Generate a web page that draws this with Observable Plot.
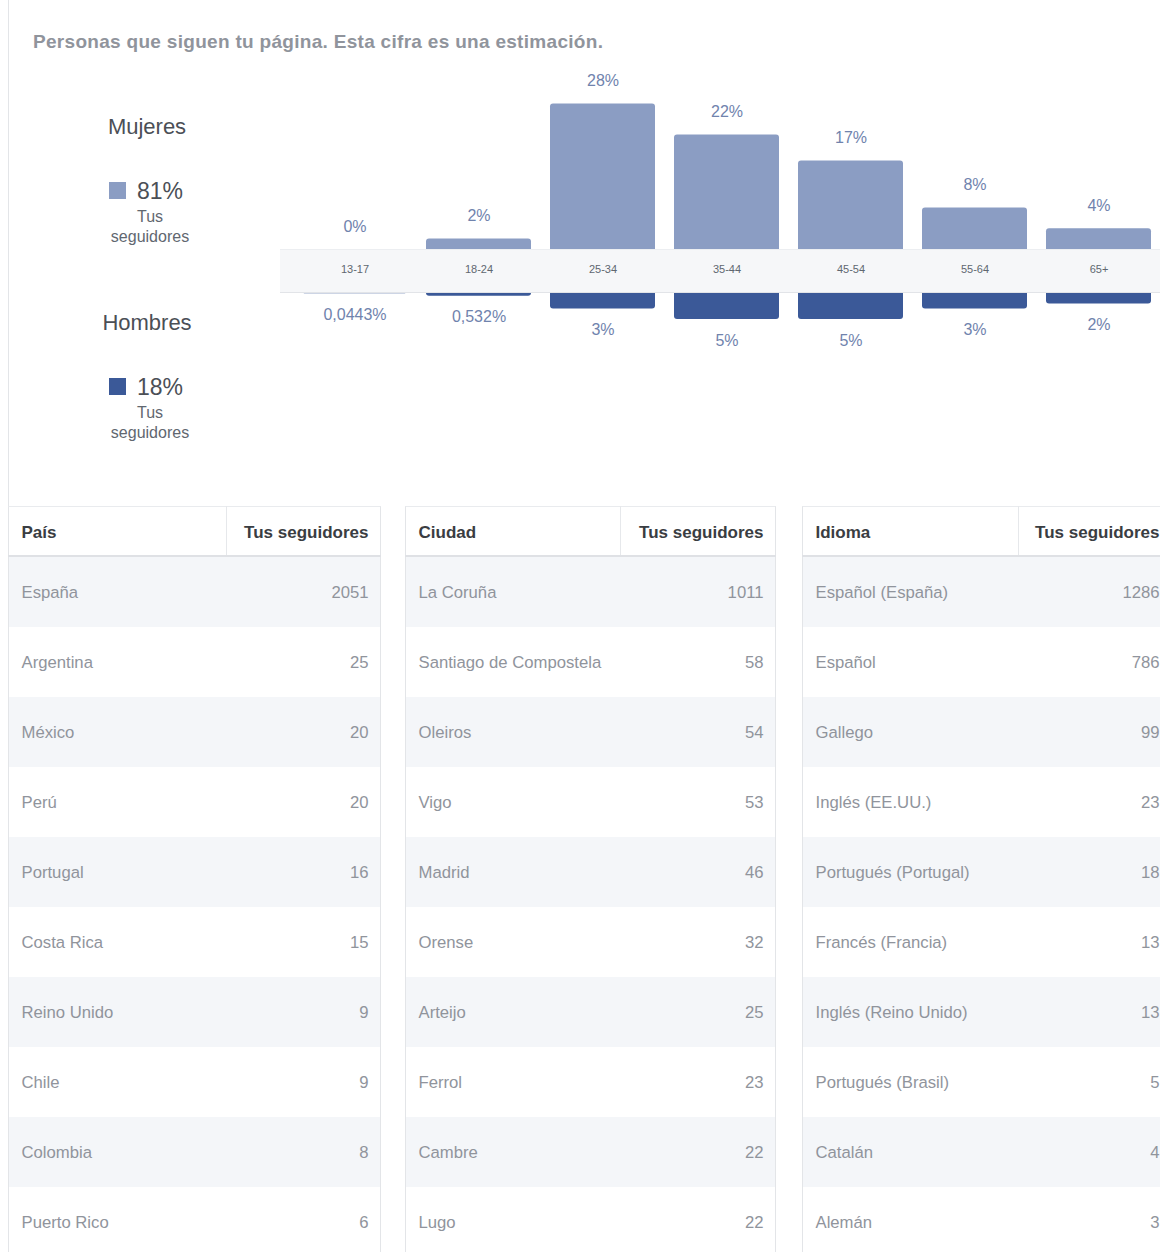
<!DOCTYPE html>
<html>
<head>
<meta charset="utf-8">
<script src="https://cdn.jsdelivr.net/npm/d3@7"></script>
<script src="https://cdn.jsdelivr.net/npm/@observablehq/plot@0.6"></script>
<style>
  html, body { margin: 0; padding: 0; }
  body { width: 1160px; height: 1252px; overflow: hidden; background: #fff; position: relative;
         font-family: "Liberation Sans", Arial, Helvetica, sans-serif; }
  .abs { position: absolute; }
  .plotbox svg { display: block; background: transparent; max-width: none; }
</style>
</head>
<body>
<div id="root"></div>
<script>
// ---------- data ----------
const titleText = "Personas que siguen tu página. Esta cifra es una estimación.";
const ageGroups = ["13-17", "18-24", "25-34", "35-44", "45-54", "55-64", "65+"];
const womenPct = [0, 2, 28, 22, 17, 8, 4];
const menPct = [0.0443, 0.532, 3, 5, 5, 3, 2];
const genders = ["Mujeres", "Hombres"];
const genderShare = [81, 18];
const genderNote = ["Tus", "seguidores"];
const valueHeader = "Tus seguidores";
const tableHeaders = ["País", "Ciudad", "Idioma"];
const paisNames = ["España", "Argentina", "México", "Perú", "Portugal", "Costa Rica", "Reino Unido", "Chile", "Colombia", "Puerto Rico"];
const paisValues = [2051, 25, 20, 20, 16, 15, 9, 9, 8, 6];
const ciudadNames = ["La Coruña", "Santiago de Compostela", "Oleiros", "Vigo", "Madrid", "Orense", "Arteijo", "Ferrol", "Cambre", "Lugo"];
const ciudadValues = [1011, 58, 54, 53, 46, 32, 25, 23, 22, 22];
const idiomaNames = ["Español (España)", "Español", "Gallego", "Inglés (EE.UU.)", "Portugués (Portugal)", "Francés (Francia)", "Inglés (Reino Unido)", "Portugués (Brasil)", "Catalán", "Alemán"];
const idiomaValues = [1286, 786, 99, 23, 18, 13, 13, 5, 4, 3];

// ---------- styles ----------
const womenColor = "#8b9dc3";
const menColor = "#3b5998";
const genderColors = [womenColor, menColor];
const labelColor = "#7083ad";
const font = "Liberation Sans, Arial, Helvetica, sans-serif";
const pxPerPct = 5.2;

const root = document.getElementById("root");
function add(el, css) { el.className = (el.className ? el.className + " " : "") + "abs"; Object.assign(el.style, css); root.appendChild(el); return el; }
function div(css, text) { const d = document.createElement("div"); if (text != null) d.textContent = text; return add(d, css); }

// page left border + title
div({left: "8px", top: "0px", width: "1px", height: "506px", background: "#e3e5e8"});
div({left: "33px", top: "31px", fontSize: "19px", lineHeight: "22px", letterSpacing: "0.3px", fontWeight: "bold", color: "#90949c", whiteSpace: "nowrap"}, titleText);

// legend
genders.forEach((g, k) => {
  const off = k * 196;
  div({left: "87px", width: "120px", top: (114 + off) + "px", fontSize: "22px", lineHeight: "26px", color: "#4b4f56", textAlign: "center"}, g);
  div({left: "109px", top: (182 + off) + "px", width: "17px", height: "17px", background: genderColors[k]});
  div({left: "137px", top: (178 + off) + "px", fontSize: "23px", lineHeight: "26px", color: "#4b4f56"}, genderShare[k] + "%");
  div({left: "90px", width: "120px", top: (208 + off) + "px", fontSize: "16px", lineHeight: "18px", color: "#616770", textAlign: "center"}, genderNote[0]);
  div({left: "90px", width: "120px", top: (228 + off) + "px", fontSize: "16px", lineHeight: "18px", color: "#616770", textAlign: "center"}, genderNote[1]);
});

// axis band behind the bars
div({left: "280px", top: "249px", width: "880px", height: "42px", background: "#f6f7f9",
     borderTop: "1px solid #eceef1", borderBottom: "1px solid #e2e4e8"});

const ageData = ageGroups.map((a, i) => ({age: a, women: womenPct[i], men: menPct[i]}));
const fmtPct = v => String(v).replace(".", ",") + "%";
const xScale = {domain: ageGroups, range: [281, 1172], padding: 0.157};

// women (upper) chart
const womenTop = 40, womenFrame = 209;
const womenPlot = Plot.plot({
  width: 1160, height: womenFrame + 44,
  marginTop: 0, marginBottom: 44, marginLeft: 0, marginRight: 0,
  style: {background: "transparent", fontFamily: font},
  x: xScale,
  y: {domain: [0, womenFrame / pxPerPct], axis: null},
  marks: [
    Plot.barY(ageData, {x: "age", y: "women", fill: womenColor, rx: 3, insetBottom: -5, clip: true}),
    Plot.text(ageData, {x: "age", y: "women", text: d => fmtPct(d.women), dy: -23, fill: labelColor, fontSize: 16}),
    Plot.axisX({tickSize: 0, tickPadding: 16, fontSize: 11, fill: "#606770", label: null})
  ]
});
const wbox = document.createElement("div"); wbox.className = "plotbox"; wbox.appendChild(womenPlot);
add(wbox, {left: "0px", top: womenTop + "px", width: "1160px"});

// men (lower) chart
const menTop = 293, menH = 70;
const menPlot = Plot.plot({
  width: 1160, height: menH,
  marginTop: 0, marginBottom: 0, marginLeft: 0, marginRight: 0,
  style: {background: "transparent", fontFamily: font},
  x: {...xScale, axis: null},
  y: {domain: [0, menH / pxPerPct], reverse: true, axis: null},
  marks: [
    Plot.barY(ageData, {x: "age", y: "men", fill: menColor, rx: 3, insetTop: -5, clip: true}),
    Plot.text(ageData, {x: "age", y: "men", text: d => fmtPct(d.men), dy: 21, fill: labelColor, fontSize: 16})
  ]
});
const mbox = document.createElement("div"); mbox.className = "plotbox"; mbox.appendChild(menPlot);
add(mbox, {left: "0px", top: menTop + "px", width: "1160px"});

// tables
const tableTop = 506, headerH = 51, rowH = 70;
function drawTable(header, names, values, left, width, divider) {
  const rows = names.map((n, i) => ({i, name: n, value: values[i]}));
  const h = headerH + rowH * rows.length;
  // chrome
  div({left: left + "px", top: tableTop + "px", width: (width - 2) + "px", height: (1252 - tableTop) + "px",
       borderLeft: "1px solid #e3e5e8", borderRight: "1px solid #e3e5e8", borderTop: "1px solid #e9ebee"});
  div({left: (left + divider) + "px", top: tableTop + "px", width: "1px", height: headerH + "px", background: "#e6e8eb"});
  const p = Plot.plot({
    width, height: h,
    marginTop: headerH, marginBottom: 0, marginLeft: 1, marginRight: 1,
    style: {background: "transparent", fontFamily: font},
    x: {domain: [0, 1]},
    y: {domain: d3.range(rows.length), padding: 0, axis: null},
    marks: [
      Plot.barX(rows.filter(d => d.i % 2 === 0), {x1: 0, x2: 1, y: "i", fill: "#f4f6f9"}),
      Plot.text(rows, {x: 0, y: "i", text: "name", textAnchor: "start", dx: 12, fill: "#90949c", fontSize: 16.7}),
      Plot.text(rows, {x: 1, y: "i", text: d => String(d.value), textAnchor: "end", dx: -12, fill: "#90949c", fontSize: 16.7}),
      Plot.axisX([0], {anchor: "top", tickSize: 0, tickPadding: 20, tickFormat: () => header, textAnchor: "start", dx: 12,
                       fontSize: 17, fontWeight: "bold", fill: "#3a3d42", label: null}),
      Plot.axisX([1], {anchor: "top", tickSize: 0, tickPadding: 20, tickFormat: () => valueHeader, textAnchor: "end", dx: -12,
                       fontSize: 17, fontWeight: "bold", fill: "#3a3d42", label: null})
    ]
  });
  const box = document.createElement("div"); box.className = "plotbox"; box.appendChild(p);
  add(box, {left: left + "px", top: tableTop + "px", width: width + "px"});
  div({left: left + "px", top: (tableTop + headerH - 2) + "px", width: width + "px", height: "2px", background: "#dfe1e5"});
}
drawTable(tableHeaders[0], paisNames, paisValues, 8, 373, 218);
drawTable(tableHeaders[1], ciudadNames, ciudadValues, 405, 371, 215);
drawTable(tableHeaders[2], idiomaNames, idiomaValues, 802, 370, 216);
</script>
</body>
</html>
